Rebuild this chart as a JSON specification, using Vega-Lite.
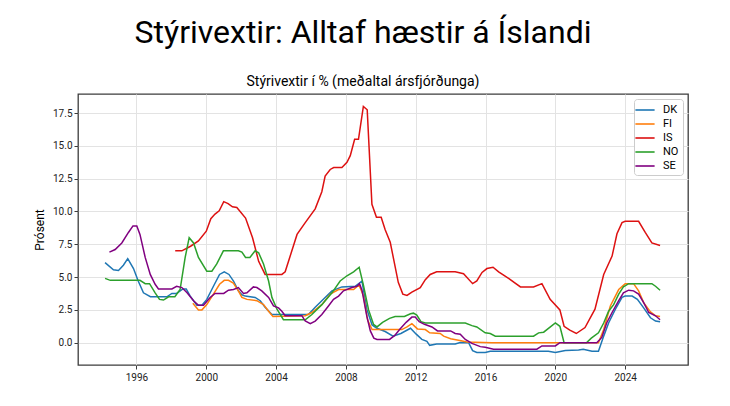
{
  "$schema": "https://vega.github.io/schema/vega-lite/v6.json",
  "width": 610,
  "height": 271,
  "autosize": {"type": "none"},
  "padding": {"left": 78, "top": 94, "right": 42, "bottom": 41},
  "background": "white",
  "title": {
    "text": "Stýrivextir: Alltaf hæstir á Íslandi",
    "subtitle": "Stýrivextir í % (meðaltal ársfjórðunga)",
    "anchor": "middle",
    "dx": -20,
    "offset": 4,
    "subtitlePadding": 25,
    "font": "Roboto",
    "fontSize": 32,
    "fontWeight": "normal",
    "color": "#000000",
    "subtitleFont": "Roboto",
    "subtitleFontSize": 14,
    "subtitleColor": "#000000"
  },
  "data": {
    "values": [
      {"country": "DK", "year": 1994.2, "rate": 6.1},
      {"country": "DK", "year": 1994.68, "rate": 5.55},
      {"country": "DK", "year": 1994.97, "rate": 5.5},
      {"country": "DK", "year": 1995.25, "rate": 5.9},
      {"country": "DK", "year": 1995.5, "rate": 6.4},
      {"country": "DK", "year": 1995.83, "rate": 5.65},
      {"country": "DK", "year": 1996.1, "rate": 4.7},
      {"country": "DK", "year": 1996.4, "rate": 3.8},
      {"country": "DK", "year": 1996.8, "rate": 3.5},
      {"country": "DK", "year": 1997.74, "rate": 3.5},
      {"country": "DK", "year": 1998.03, "rate": 3.75},
      {"country": "DK", "year": 1998.3, "rate": 3.75},
      {"country": "DK", "year": 1998.66, "rate": 4.1},
      {"country": "DK", "year": 1998.85, "rate": 4.1},
      {"country": "DK", "year": 1999.08, "rate": 3.55},
      {"country": "DK", "year": 1999.46, "rate": 2.85},
      {"country": "DK", "year": 1999.75, "rate": 2.85},
      {"country": "DK", "year": 2000.03, "rate": 3.3},
      {"country": "DK", "year": 2000.41, "rate": 4.3},
      {"country": "DK", "year": 2000.76, "rate": 5.2},
      {"country": "DK", "year": 2001.03, "rate": 5.4},
      {"country": "DK", "year": 2001.3, "rate": 5.2},
      {"country": "DK", "year": 2001.56, "rate": 4.7},
      {"country": "DK", "year": 2001.84, "rate": 3.95},
      {"country": "DK", "year": 2002.04, "rate": 3.65},
      {"country": "DK", "year": 2002.23, "rate": 3.55},
      {"country": "DK", "year": 2002.8, "rate": 3.45},
      {"country": "DK", "year": 2003.09, "rate": 3.2},
      {"country": "DK", "year": 2003.37, "rate": 2.7},
      {"country": "DK", "year": 2003.76, "rate": 2.15},
      {"country": "DK", "year": 2005.85, "rate": 2.15},
      {"country": "DK", "year": 2006.24, "rate": 2.7},
      {"country": "DK", "year": 2006.81, "rate": 3.45},
      {"country": "DK", "year": 2007.2, "rate": 3.95},
      {"country": "DK", "year": 2007.77, "rate": 4.25},
      {"country": "DK", "year": 2008.53, "rate": 4.3},
      {"country": "DK", "year": 2008.92, "rate": 4.7},
      {"country": "DK", "year": 2009.2, "rate": 2.55},
      {"country": "DK", "year": 2009.5, "rate": 1.35},
      {"country": "DK", "year": 2009.78, "rate": 1.1},
      {"country": "DK", "year": 2010.25, "rate": 0.85},
      {"country": "DK", "year": 2010.7, "rate": 0.5},
      {"country": "DK", "year": 2011.15, "rate": 0.7},
      {"country": "DK", "year": 2011.7, "rate": 1.1},
      {"country": "DK", "year": 2012.03, "rate": 0.65},
      {"country": "DK", "year": 2012.35, "rate": 0.25},
      {"country": "DK", "year": 2012.64, "rate": 0.1},
      {"country": "DK", "year": 2012.8, "rate": -0.2},
      {"country": "DK", "year": 2013.2, "rate": -0.1},
      {"country": "DK", "year": 2014.26, "rate": -0.1},
      {"country": "DK", "year": 2014.55, "rate": 0.02},
      {"country": "DK", "year": 2015.03, "rate": 0.0},
      {"country": "DK", "year": 2015.26, "rate": -0.6},
      {"country": "DK", "year": 2015.5, "rate": -0.75},
      {"country": "DK", "year": 2015.98, "rate": -0.75},
      {"country": "DK", "year": 2016.27, "rate": -0.65},
      {"country": "DK", "year": 2019.6, "rate": -0.65},
      {"country": "DK", "year": 2020.0, "rate": -0.75},
      {"country": "DK", "year": 2020.57, "rate": -0.6},
      {"country": "DK", "year": 2021.33, "rate": -0.55},
      {"country": "DK", "year": 2021.6, "rate": -0.5},
      {"country": "DK", "year": 2022.1, "rate": -0.65},
      {"country": "DK", "year": 2022.47, "rate": -0.65},
      {"country": "DK", "year": 2022.77, "rate": 0.5},
      {"country": "DK", "year": 2023.05, "rate": 1.5},
      {"country": "DK", "year": 2023.44, "rate": 2.55},
      {"country": "DK", "year": 2023.82, "rate": 3.45},
      {"country": "DK", "year": 2024.0, "rate": 3.55},
      {"country": "DK", "year": 2024.4, "rate": 3.55},
      {"country": "DK", "year": 2024.7, "rate": 3.3},
      {"country": "DK", "year": 2025.06, "rate": 2.65},
      {"country": "DK", "year": 2025.45, "rate": 1.9},
      {"country": "DK", "year": 2025.74, "rate": 1.65},
      {"country": "DK", "year": 2026.0, "rate": 1.6},

      {"country": "FI", "year": 1999.23, "rate": 3.0},
      {"country": "FI", "year": 1999.55, "rate": 2.5},
      {"country": "FI", "year": 1999.75, "rate": 2.5},
      {"country": "FI", "year": 2000.03, "rate": 2.9},
      {"country": "FI", "year": 2000.41, "rate": 3.7},
      {"country": "FI", "year": 2000.76, "rate": 4.45},
      {"country": "FI", "year": 2001.03, "rate": 4.75},
      {"country": "FI", "year": 2001.27, "rate": 4.75},
      {"country": "FI", "year": 2001.55, "rate": 4.55},
      {"country": "FI", "year": 2001.84, "rate": 3.95},
      {"country": "FI", "year": 2002.04, "rate": 3.45},
      {"country": "FI", "year": 2002.33, "rate": 3.3},
      {"country": "FI", "year": 2002.9, "rate": 3.2},
      {"country": "FI", "year": 2003.28, "rate": 2.9},
      {"country": "FI", "year": 2003.57, "rate": 2.4},
      {"country": "FI", "year": 2003.82, "rate": 2.0},
      {"country": "FI", "year": 2005.67, "rate": 2.05},
      {"country": "FI", "year": 2006.05, "rate": 2.3},
      {"country": "FI", "year": 2006.62, "rate": 2.9},
      {"country": "FI", "year": 2007.1, "rate": 3.7},
      {"country": "FI", "year": 2007.58, "rate": 4.05},
      {"country": "FI", "year": 2008.44, "rate": 4.05},
      {"country": "FI", "year": 2008.75, "rate": 4.4},
      {"country": "FI", "year": 2009.0, "rate": 3.6},
      {"country": "FI", "year": 2009.25, "rate": 1.7},
      {"country": "FI", "year": 2009.5, "rate": 1.0},
      {"country": "FI", "year": 2011.2, "rate": 1.0},
      {"country": "FI", "year": 2011.5, "rate": 1.2},
      {"country": "FI", "year": 2011.78, "rate": 1.45},
      {"country": "FI", "year": 2012.1, "rate": 1.05},
      {"country": "FI", "year": 2012.55, "rate": 1.0},
      {"country": "FI", "year": 2012.8, "rate": 0.75},
      {"country": "FI", "year": 2013.4, "rate": 0.7},
      {"country": "FI", "year": 2013.6, "rate": 0.5},
      {"country": "FI", "year": 2014.0, "rate": 0.3},
      {"country": "FI", "year": 2014.6, "rate": 0.15},
      {"country": "FI", "year": 2014.93, "rate": 0.05},
      {"country": "FI", "year": 2016.36, "rate": 0.0},
      {"country": "FI", "year": 2022.47, "rate": 0.0},
      {"country": "FI", "year": 2022.77, "rate": 1.0},
      {"country": "FI", "year": 2023.15, "rate": 2.8},
      {"country": "FI", "year": 2023.63, "rate": 4.05},
      {"country": "FI", "year": 2024.0, "rate": 4.5},
      {"country": "FI", "year": 2024.48, "rate": 4.5},
      {"country": "FI", "year": 2024.77, "rate": 3.95},
      {"country": "FI", "year": 2025.06, "rate": 3.05},
      {"country": "FI", "year": 2025.45, "rate": 2.35},
      {"country": "FI", "year": 2025.74, "rate": 2.05},
      {"country": "FI", "year": 2026.0, "rate": 2.0},

      {"country": "IS", "year": 1998.22, "rate": 7.0},
      {"country": "IS", "year": 1998.6, "rate": 7.0},
      {"country": "IS", "year": 1999.1, "rate": 7.35},
      {"country": "IS", "year": 1999.55, "rate": 7.75},
      {"country": "IS", "year": 2000.0, "rate": 8.5},
      {"country": "IS", "year": 2000.26, "rate": 9.45},
      {"country": "IS", "year": 2000.5, "rate": 9.8},
      {"country": "IS", "year": 2000.74, "rate": 10.05},
      {"country": "IS", "year": 2001.0, "rate": 10.75},
      {"country": "IS", "year": 2001.25, "rate": 10.6},
      {"country": "IS", "year": 2001.5, "rate": 10.35},
      {"country": "IS", "year": 2001.75, "rate": 10.3},
      {"country": "IS", "year": 2002.25, "rate": 9.5},
      {"country": "IS", "year": 2002.65, "rate": 8.0},
      {"country": "IS", "year": 2003.0, "rate": 6.2},
      {"country": "IS", "year": 2003.37, "rate": 5.2},
      {"country": "IS", "year": 2004.33, "rate": 5.2},
      {"country": "IS", "year": 2004.52, "rate": 5.4},
      {"country": "IS", "year": 2005.2, "rate": 8.25},
      {"country": "IS", "year": 2005.67, "rate": 9.15},
      {"country": "IS", "year": 2006.24, "rate": 10.2},
      {"country": "IS", "year": 2006.62, "rate": 11.5},
      {"country": "IS", "year": 2006.81, "rate": 12.7},
      {"country": "IS", "year": 2007.1, "rate": 13.2},
      {"country": "IS", "year": 2007.3, "rate": 13.35},
      {"country": "IS", "year": 2007.77, "rate": 13.35},
      {"country": "IS", "year": 2008.06, "rate": 13.75},
      {"country": "IS", "year": 2008.25, "rate": 14.25},
      {"country": "IS", "year": 2008.5, "rate": 15.5},
      {"country": "IS", "year": 2008.72, "rate": 15.5},
      {"country": "IS", "year": 2009.0, "rate": 18.0},
      {"country": "IS", "year": 2009.22, "rate": 17.75},
      {"country": "IS", "year": 2009.49, "rate": 10.55},
      {"country": "IS", "year": 2009.75, "rate": 9.55},
      {"country": "IS", "year": 2010.02, "rate": 9.55},
      {"country": "IS", "year": 2010.25, "rate": 8.6},
      {"country": "IS", "year": 2010.54, "rate": 7.65},
      {"country": "IS", "year": 2011.0, "rate": 4.6},
      {"country": "IS", "year": 2011.26, "rate": 3.7},
      {"country": "IS", "year": 2011.5, "rate": 3.6},
      {"country": "IS", "year": 2011.78, "rate": 3.85},
      {"country": "IS", "year": 2012.26, "rate": 4.2},
      {"country": "IS", "year": 2012.55, "rate": 4.8},
      {"country": "IS", "year": 2012.83, "rate": 5.2},
      {"country": "IS", "year": 2013.2, "rate": 5.4},
      {"country": "IS", "year": 2014.26, "rate": 5.4},
      {"country": "IS", "year": 2014.74, "rate": 5.25},
      {"country": "IS", "year": 2015.26, "rate": 4.5},
      {"country": "IS", "year": 2015.5, "rate": 4.7},
      {"country": "IS", "year": 2015.8, "rate": 5.35},
      {"country": "IS", "year": 2016.08, "rate": 5.65},
      {"country": "IS", "year": 2016.43, "rate": 5.75},
      {"country": "IS", "year": 2016.75, "rate": 5.4},
      {"country": "IS", "year": 2017.32, "rate": 4.9},
      {"country": "IS", "year": 2018.0, "rate": 4.25},
      {"country": "IS", "year": 2018.75, "rate": 4.25},
      {"country": "IS", "year": 2019.23, "rate": 4.5},
      {"country": "IS", "year": 2019.7, "rate": 3.3},
      {"country": "IS", "year": 2020.26, "rate": 2.5},
      {"country": "IS", "year": 2020.5, "rate": 1.25},
      {"country": "IS", "year": 2020.83, "rate": 0.95},
      {"country": "IS", "year": 2021.2, "rate": 0.7},
      {"country": "IS", "year": 2021.7, "rate": 1.15},
      {"country": "IS", "year": 2022.27, "rate": 2.55},
      {"country": "IS", "year": 2022.77, "rate": 5.2},
      {"country": "IS", "year": 2023.25, "rate": 6.6},
      {"country": "IS", "year": 2023.53, "rate": 8.3},
      {"country": "IS", "year": 2023.82, "rate": 9.15},
      {"country": "IS", "year": 2024.0, "rate": 9.25},
      {"country": "IS", "year": 2024.77, "rate": 9.25},
      {"country": "IS", "year": 2025.15, "rate": 8.4},
      {"country": "IS", "year": 2025.53, "rate": 7.6},
      {"country": "IS", "year": 2026.0, "rate": 7.4},

      {"country": "NO", "year": 1994.2, "rate": 4.9},
      {"country": "NO", "year": 1994.5, "rate": 4.75},
      {"country": "NO", "year": 1996.2, "rate": 4.75},
      {"country": "NO", "year": 1996.5, "rate": 4.5},
      {"country": "NO", "year": 1996.75, "rate": 4.5},
      {"country": "NO", "year": 1997.07, "rate": 3.8},
      {"country": "NO", "year": 1997.32, "rate": 3.3},
      {"country": "NO", "year": 1997.55, "rate": 3.25},
      {"country": "NO", "year": 1997.84, "rate": 3.5},
      {"country": "NO", "year": 1998.2, "rate": 3.5},
      {"country": "NO", "year": 1998.5, "rate": 4.05},
      {"country": "NO", "year": 1998.79, "rate": 6.5},
      {"country": "NO", "year": 1999.02, "rate": 8.0},
      {"country": "NO", "year": 1999.27, "rate": 7.6},
      {"country": "NO", "year": 1999.55, "rate": 6.5},
      {"country": "NO", "year": 2000.03, "rate": 5.45},
      {"country": "NO", "year": 2000.32, "rate": 5.45},
      {"country": "NO", "year": 2000.6, "rate": 6.0},
      {"country": "NO", "year": 2000.98, "rate": 7.0},
      {"country": "NO", "year": 2001.84, "rate": 7.0},
      {"country": "NO", "year": 2002.04, "rate": 6.9},
      {"country": "NO", "year": 2002.25, "rate": 6.5},
      {"country": "NO", "year": 2002.5, "rate": 6.5},
      {"country": "NO", "year": 2002.8, "rate": 7.0},
      {"country": "NO", "year": 2003.0, "rate": 6.85},
      {"country": "NO", "year": 2003.28, "rate": 6.0},
      {"country": "NO", "year": 2003.57, "rate": 4.7},
      {"country": "NO", "year": 2003.76, "rate": 3.45},
      {"country": "NO", "year": 2004.05, "rate": 2.55},
      {"country": "NO", "year": 2004.42, "rate": 1.75},
      {"country": "NO", "year": 2005.67, "rate": 1.75},
      {"country": "NO", "year": 2006.05, "rate": 2.15},
      {"country": "NO", "year": 2006.62, "rate": 2.9},
      {"country": "NO", "year": 2007.2, "rate": 3.8},
      {"country": "NO", "year": 2007.67, "rate": 4.7},
      {"country": "NO", "year": 2008.06, "rate": 5.1},
      {"country": "NO", "year": 2008.44, "rate": 5.4},
      {"country": "NO", "year": 2008.76, "rate": 5.75},
      {"country": "NO", "year": 2009.0, "rate": 4.4},
      {"country": "NO", "year": 2009.3, "rate": 2.5},
      {"country": "NO", "year": 2009.58, "rate": 1.4},
      {"country": "NO", "year": 2009.78, "rate": 1.2},
      {"country": "NO", "year": 2010.1, "rate": 1.55},
      {"country": "NO", "year": 2010.5, "rate": 1.85},
      {"country": "NO", "year": 2010.82, "rate": 2.0},
      {"country": "NO", "year": 2011.35, "rate": 2.0},
      {"country": "NO", "year": 2011.7, "rate": 2.2},
      {"country": "NO", "year": 2011.87, "rate": 2.25},
      {"country": "NO", "year": 2012.06, "rate": 2.1},
      {"country": "NO", "year": 2012.3, "rate": 1.6},
      {"country": "NO", "year": 2012.55, "rate": 1.5},
      {"country": "NO", "year": 2014.84, "rate": 1.5},
      {"country": "NO", "year": 2015.22, "rate": 1.3},
      {"country": "NO", "year": 2015.5, "rate": 1.2},
      {"country": "NO", "year": 2015.98, "rate": 0.75},
      {"country": "NO", "year": 2016.27, "rate": 0.7},
      {"country": "NO", "year": 2016.56, "rate": 0.5},
      {"country": "NO", "year": 2018.75, "rate": 0.5},
      {"country": "NO", "year": 2019.04, "rate": 0.75},
      {"country": "NO", "year": 2019.33, "rate": 0.8},
      {"country": "NO", "year": 2020.0, "rate": 1.5},
      {"country": "NO", "year": 2020.26, "rate": 1.25},
      {"country": "NO", "year": 2020.5, "rate": 0.0},
      {"country": "NO", "year": 2021.78, "rate": 0.0},
      {"country": "NO", "year": 2022.06, "rate": 0.35},
      {"country": "NO", "year": 2022.47, "rate": 0.75},
      {"country": "NO", "year": 2022.77, "rate": 1.5},
      {"country": "NO", "year": 2023.05, "rate": 2.4},
      {"country": "NO", "year": 2023.34, "rate": 2.9},
      {"country": "NO", "year": 2023.63, "rate": 3.7},
      {"country": "NO", "year": 2023.9, "rate": 4.25},
      {"country": "NO", "year": 2024.2, "rate": 4.5},
      {"country": "NO", "year": 2025.53, "rate": 4.5},
      {"country": "NO", "year": 2025.74, "rate": 4.3},
      {"country": "NO", "year": 2026.0, "rate": 4.0},

      {"country": "SE", "year": 1994.45, "rate": 6.9},
      {"country": "SE", "year": 1994.78, "rate": 7.1},
      {"country": "SE", "year": 1995.16, "rate": 7.6},
      {"country": "SE", "year": 1995.54, "rate": 8.4},
      {"country": "SE", "year": 1995.8, "rate": 8.9},
      {"country": "SE", "year": 1996.02, "rate": 8.9},
      {"country": "SE", "year": 1996.2, "rate": 8.25},
      {"country": "SE", "year": 1996.5, "rate": 6.5},
      {"country": "SE", "year": 1996.79, "rate": 5.2},
      {"country": "SE", "year": 1997.07, "rate": 4.45},
      {"country": "SE", "year": 1997.26, "rate": 4.1},
      {"country": "SE", "year": 1998.03, "rate": 4.1},
      {"country": "SE", "year": 1998.3, "rate": 4.3},
      {"country": "SE", "year": 1998.6, "rate": 4.2},
      {"country": "SE", "year": 1998.9, "rate": 3.8},
      {"country": "SE", "year": 1999.27, "rate": 3.2},
      {"country": "SE", "year": 1999.55, "rate": 2.85},
      {"country": "SE", "year": 1999.84, "rate": 2.85},
      {"country": "SE", "year": 2000.22, "rate": 3.45},
      {"country": "SE", "year": 2000.5, "rate": 3.75},
      {"country": "SE", "year": 2001.0, "rate": 3.75},
      {"country": "SE", "year": 2001.27, "rate": 4.0},
      {"country": "SE", "year": 2001.56, "rate": 4.05},
      {"country": "SE", "year": 2001.84, "rate": 4.2},
      {"country": "SE", "year": 2002.13, "rate": 3.75},
      {"country": "SE", "year": 2002.33, "rate": 3.8},
      {"country": "SE", "year": 2002.7, "rate": 4.25},
      {"country": "SE", "year": 2002.9, "rate": 4.2},
      {"country": "SE", "year": 2003.18, "rate": 3.95},
      {"country": "SE", "year": 2003.57, "rate": 3.45},
      {"country": "SE", "year": 2003.85, "rate": 2.8},
      {"country": "SE", "year": 2004.14, "rate": 2.65},
      {"country": "SE", "year": 2004.33, "rate": 2.4},
      {"country": "SE", "year": 2004.52, "rate": 2.05},
      {"country": "SE", "year": 2005.48, "rate": 2.05},
      {"country": "SE", "year": 2005.67, "rate": 1.65},
      {"country": "SE", "year": 2005.96, "rate": 1.45},
      {"country": "SE", "year": 2006.24, "rate": 1.65},
      {"country": "SE", "year": 2006.62, "rate": 2.15},
      {"country": "SE", "year": 2007.0, "rate": 2.8},
      {"country": "SE", "year": 2007.29, "rate": 3.3},
      {"country": "SE", "year": 2007.58, "rate": 3.55},
      {"country": "SE", "year": 2007.86, "rate": 3.95},
      {"country": "SE", "year": 2008.34, "rate": 4.2},
      {"country": "SE", "year": 2008.63, "rate": 4.3},
      {"country": "SE", "year": 2008.78, "rate": 4.5},
      {"country": "SE", "year": 2008.92, "rate": 4.0},
      {"country": "SE", "year": 2009.2, "rate": 2.0},
      {"country": "SE", "year": 2009.4, "rate": 0.9},
      {"country": "SE", "year": 2009.6, "rate": 0.35},
      {"country": "SE", "year": 2009.78, "rate": 0.25},
      {"country": "SE", "year": 2010.5, "rate": 0.25},
      {"country": "SE", "year": 2010.8, "rate": 0.55},
      {"country": "SE", "year": 2011.1, "rate": 1.05},
      {"country": "SE", "year": 2011.45, "rate": 1.55},
      {"country": "SE", "year": 2011.78, "rate": 1.95},
      {"country": "SE", "year": 2011.97, "rate": 1.95},
      {"country": "SE", "year": 2012.2, "rate": 1.6},
      {"country": "SE", "year": 2012.5, "rate": 1.4},
      {"country": "SE", "year": 2012.93, "rate": 1.2},
      {"country": "SE", "year": 2013.25, "rate": 0.9},
      {"country": "SE", "year": 2014.0, "rate": 0.9},
      {"country": "SE", "year": 2014.26, "rate": 0.7},
      {"country": "SE", "year": 2014.55, "rate": 0.65},
      {"country": "SE", "year": 2014.84, "rate": 0.25},
      {"country": "SE", "year": 2015.22, "rate": -0.05},
      {"country": "SE", "year": 2015.7, "rate": -0.3},
      {"country": "SE", "year": 2015.98, "rate": -0.35},
      {"country": "SE", "year": 2016.46, "rate": -0.5},
      {"country": "SE", "year": 2018.94, "rate": -0.5},
      {"country": "SE", "year": 2019.23, "rate": -0.25},
      {"country": "SE", "year": 2020.0, "rate": -0.25},
      {"country": "SE", "year": 2020.26, "rate": 0.0},
      {"country": "SE", "year": 2022.37, "rate": 0.0},
      {"country": "SE", "year": 2022.66, "rate": 0.4},
      {"country": "SE", "year": 2022.94, "rate": 1.5},
      {"country": "SE", "year": 2023.25, "rate": 2.3},
      {"country": "SE", "year": 2023.63, "rate": 3.2},
      {"country": "SE", "year": 2023.9, "rate": 3.8},
      {"country": "SE", "year": 2024.2, "rate": 4.0},
      {"country": "SE", "year": 2024.48, "rate": 3.95},
      {"country": "SE", "year": 2024.77, "rate": 3.7},
      {"country": "SE", "year": 2025.06, "rate": 3.05},
      {"country": "SE", "year": 2025.35, "rate": 2.3},
      {"country": "SE", "year": 2025.74, "rate": 2.05},
      {"country": "SE", "year": 2026.0, "rate": 1.75}
    ]
  },
  "mark": {"type": "line", "strokeWidth": 1.5},
  "encoding": {
    "x": {
      "field": "year",
      "type": "quantitative",
      "scale": {"domain": [1992.65, 2027.6], "nice": false, "zero": false},
      "axis": {
        "title": null,
        "values": [1996, 2000, 2004, 2008, 2012, 2016, 2020, 2024],
        "format": "d",
        "labelPadding": 3
      }
    },
    "y": {
      "field": "rate",
      "type": "quantitative",
      "scale": {"domain": [-1.7, 18.95], "nice": false, "zero": false},
      "axis": {
        "title": "Prósent",
        "values": [0, 2.5, 5, 7.5, 10, 12.5, 15, 17.5],
        "format": ".1f",
        "titleFontSize": 12,
        "titleFontWeight": "normal",
        "titleFont": "Roboto",
        "titleColor": "#000000",
        "titlePadding": 6,
        "labelPadding": 2
      }
    },
    "color": {
      "field": "country",
      "type": "nominal",
      "scale": {
        "domain": ["DK", "FI", "IS", "NO", "SE"],
        "range": ["#1f77b4", "#ff7f0e", "#dd1111", "#2ca02c", "#800080"]
      },
      "legend": {
        "title": null,
        "orient": "top-right",
        "offset": 5,
        "padding": 4,
        "fillColor": "white",
        "strokeColor": "#cccccc",
        "cornerRadius": 3,
        "symbolType": "M-1.6,0L1.6,0",
        "symbolSize": 144,
        "symbolStrokeWidth": 1.6,
        "labelOffset": 11,
        "labelFontSize": 11,
        "labelFont": "Roboto",
        "labelColor": "#000000",
        "rowPadding": 2
      }
    }
  },
  "config": {
    "view": {"stroke": "#3c3c3c", "strokeWidth": 1.3},
    "axis": {
      "domain": false,
      "grid": true,
      "gridColor": "#e3e3e3",
      "gridWidth": 1,
      "tickColor": "#3c3c3c",
      "tickSize": 4,
      "labelFont": "Roboto",
      "labelFontSize": 10,
      "labelColor": "#222222"
    }
  }
}
